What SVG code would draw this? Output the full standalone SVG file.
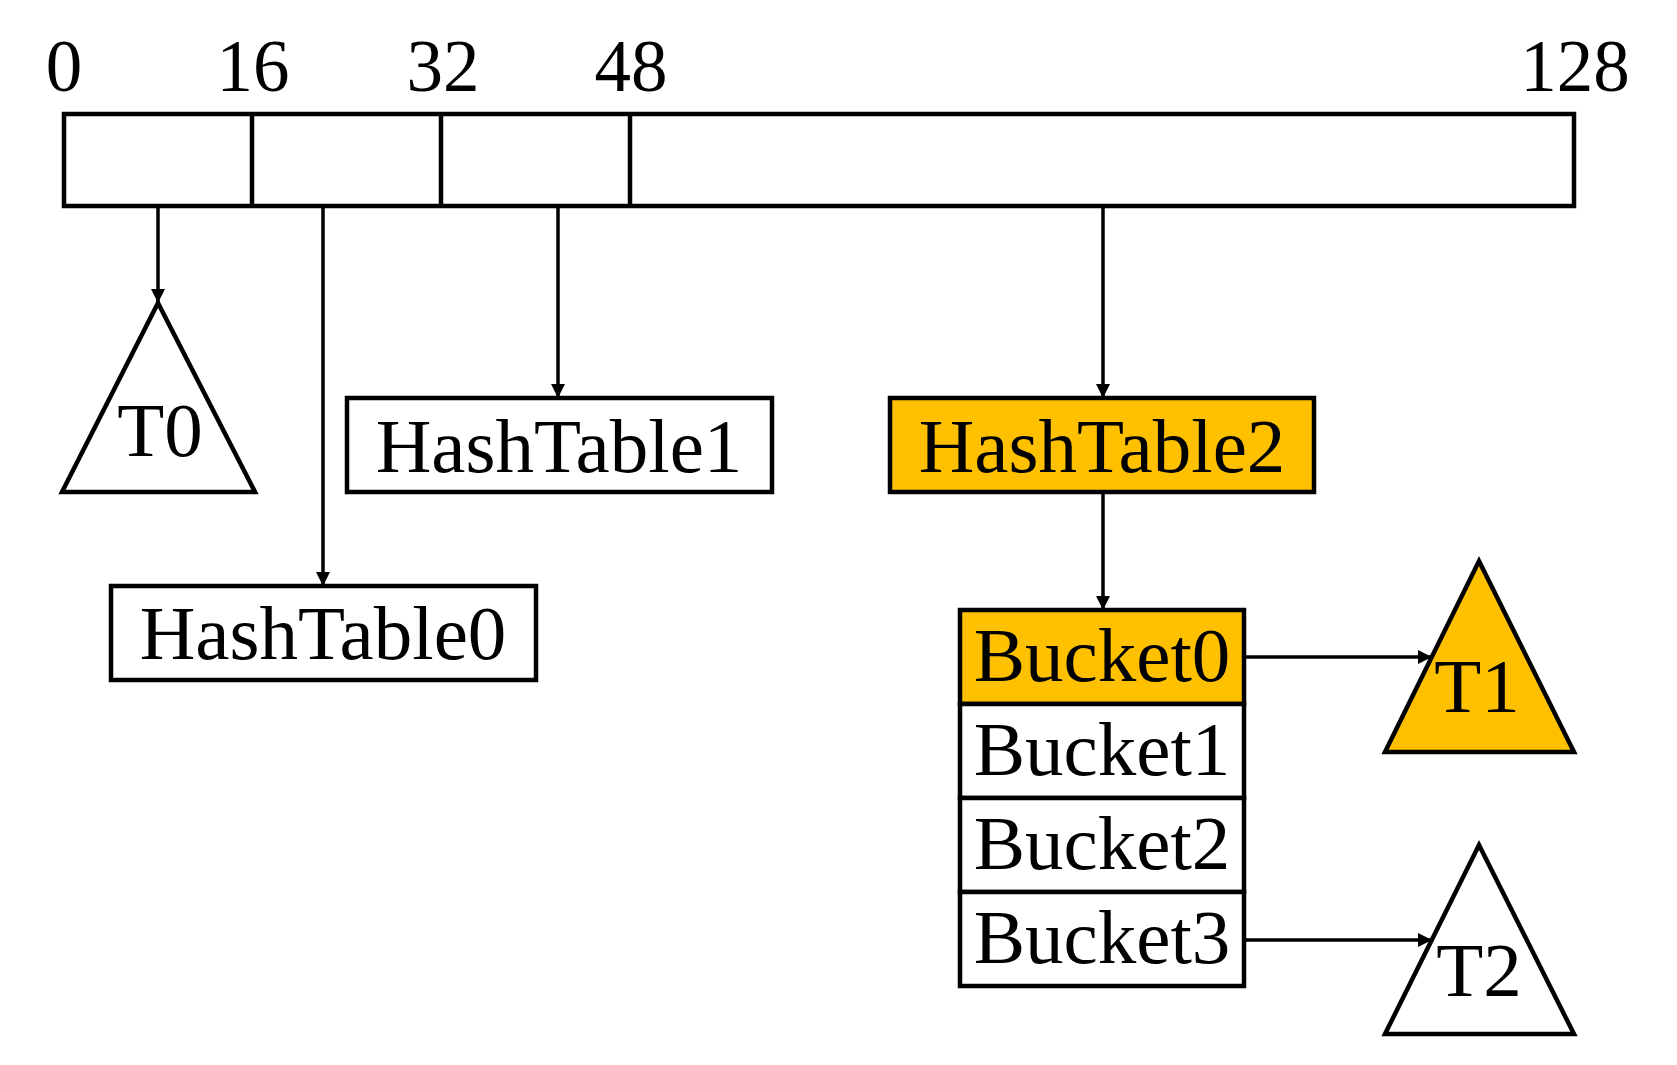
<svg xmlns="http://www.w3.org/2000/svg" width="1677" height="1065" viewBox="0 0 1677 1065">
<style>
.box{fill:#fff;stroke:#000;stroke-width:4.5}
.hl{fill:#FFC000;stroke:#000;stroke-width:4.5}
.t{font-family:"Liberation Serif","Times New Roman",serif;font-size:77px;fill:#000;text-anchor:middle}
.n{font-family:"Liberation Serif","Times New Roman",serif;font-size:73px;fill:#000;text-anchor:middle}
.c{stroke:#000;stroke-width:3.5;fill:none;marker-end:url(#ah)}
</style>
<defs>
<marker id="ah" viewBox="0 0 10 10" refX="10" refY="5" markerWidth="4.5" markerHeight="4" orient="auto" markerUnits="strokeWidth">
<path d="M0,0 L10,5 L0,10 z" fill="#000"/>
</marker>
</defs>
<rect width="1677" height="1065" fill="#fff"/>
<g id="bar">
<rect class="box" x="64" y="114" width="1510" height="92"/>
<line x1="252" y1="114" x2="252" y2="206" stroke="#000" stroke-width="4.5"/>
<line x1="441" y1="114" x2="441" y2="206" stroke="#000" stroke-width="4.5"/>
<line x1="630" y1="114" x2="630" y2="206" stroke="#000" stroke-width="4.5"/>
<text class="n" x="64" y="91">0</text>
<text class="n" x="253" y="91">16</text>
<text class="n" x="443" y="91">32</text>
<text class="n" x="631" y="91">48</text>
<text class="n" x="1575" y="91">128</text>
</g>
<g id="T0">
<polygon class="box" points="158,303 255,492 62,492"/>
<text class="t" x="160" y="456">T0</text>
</g>
<g id="HashTable1">
<rect class="box" x="347" y="398" width="425" height="94"/>
<text class="t" x="559" y="472">HashTable1</text>
</g>
<g id="HashTable0">
<rect class="box" x="111" y="586" width="425" height="94"/>
<text class="t" x="323" y="659">HashTable0</text>
</g>
<g id="HashTable2">
<rect class="hl" x="890" y="398" width="424" height="94"/>
<text class="t" x="1102" y="472">HashTable2</text>
</g>
<g id="Bucket0">
<rect class="hl" x="960" y="610" width="284" height="94"/>
<text class="t" x="1102" y="681">Bucket0</text>
</g>
<g id="Bucket1">
<rect class="box" x="960" y="704" width="284" height="94"/>
<text class="t" x="1102" y="775">Bucket1</text>
</g>
<g id="Bucket2">
<rect class="box" x="960" y="798" width="284" height="94"/>
<text class="t" x="1102" y="869">Bucket2</text>
</g>
<g id="Bucket3">
<rect class="box" x="960" y="892" width="284" height="94"/>
<text class="t" x="1102" y="963">Bucket3</text>
</g>
<g id="T1">
<polygon class="hl" points="1479,561 1574,752 1385,752"/>
<text class="t" x="1477" y="712">T1</text>
</g>
<g id="T2">
<polygon class="box" points="1479,845 1574,1034 1385,1034"/>
<text class="t" x="1479" y="996">T2</text>
</g>
<g id="connectors">
<line class="c" x1="158" y1="206" x2="158" y2="303"/>
<line class="c" x1="323" y1="206" x2="323" y2="586"/>
<line class="c" x1="558" y1="206" x2="558" y2="398"/>
<line class="c" x1="1103" y1="206" x2="1103" y2="398"/>
<line class="c" x1="1103" y1="492" x2="1103" y2="610"/>
<line class="c" x1="1244" y1="657" x2="1432" y2="657"/>
<line class="c" x1="1244" y1="940" x2="1432" y2="940"/>
</g>
</svg>
